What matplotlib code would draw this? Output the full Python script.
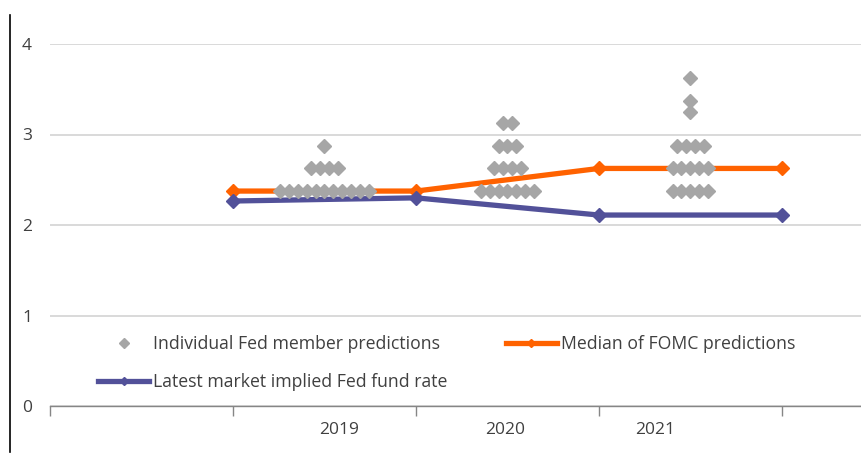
import matplotlib
matplotlib.use("Agg")
import matplotlib.pyplot as plt
from matplotlib.lines import Line2D
import numpy as np

plt.rcParams['font.family'] = ['Open Sans', 'DejaVu Sans']

# line series (x positions 0..3 on category axis)
line_x = [0, 1, 2, 3]
median_fomc = [2.375, 2.375, 2.625, 2.625]
market_implied = [2.265, 2.30, 2.11, 2.11]

# individual dot-plot predictions: cluster centre, value levels and count at each level
dot_years = ["2019", "2020", "2021"]
dot_centres = [0.5, 1.5, 2.5]
dot_levels = [
    [2.375, 2.625, 2.875],
    [2.375, 2.625, 2.875, 3.125],
    [2.375, 2.625, 2.875, 3.25, 3.375, 3.625],
]
dot_counts = [
    [11, 4, 1],
    [7, 4, 3, 2],
    [5, 5, 4, 1, 1, 1],
]

year_labels = ["2019", "2020", "2021"]
year_label_pos = [0.58, 1.486, 2.306]

ORANGE = "#FF6200"
PURPLE = "#525199"
GREY = "#A6A6A6"
TEXT = "#404040"

fig = plt.figure(figsize=(8.62, 4.59), dpi=100)
ax = fig.add_axes([50/862, 1-406/459, 811/862, (406-44)/459])

spacing = 0.049
xs, ys = [], []
for c, levels, counts in zip(dot_centres, dot_levels, dot_counts):
    for v, n in zip(levels, counts):
        for i in range(n):
            xs.append(c + (i - (n - 1) / 2) * spacing)
            ys.append(v)

ax.plot(line_x, median_fomc, color=ORANGE, lw=3.8, marker='D', ms=7, zorder=3)
ax.plot(line_x, market_implied, color=PURPLE, lw=3.8, marker='D', ms=7, zorder=3)
ax.plot(xs, ys, linestyle='none', marker='D', ms=7.2, color=GREY, zorder=4)

ax.set_xlim(-1, 3.432)
ax.set_ylim(0, 4)
ax.set_yticks([0, 1, 2, 3, 4])
ax.set_yticklabels(["0", "1", "2", "3", "4"])
ax.yaxis.grid(True, color="#D9D9D9", lw=1.4)
ax.set_axisbelow(True)
ax.tick_params(axis='y', length=0, pad=13, labelsize=12.5, labelcolor=TEXT)

ax.set_xticks(year_label_pos)
ax.set_xticklabels(year_labels)
ax.set_xticks([-1, 0, 1, 2, 3], minor=True)
ax.tick_params(axis='x', which='major', length=0, pad=11.5, labelsize=12.5, labelcolor=TEXT)
ax.tick_params(axis='x', which='minor', length=7, width=1, color="#868686", direction='out')

for s in ['top', 'right', 'left']:
    ax.spines[s].set_visible(False)
ax.spines['bottom'].set_color("#868686")
ax.spines['bottom'].set_linewidth(1)

h_dots = Line2D([], [], linestyle='none', marker='D', ms=5, color=GREY)
h_orange = Line2D([], [], color=ORANGE, lw=3.8, marker='D', ms=4)
h_purple = Line2D([], [], color=PURPLE, lw=3.8, marker='D', ms=4)
leg = ax.legend([h_dots, h_purple, h_orange],
                ["Individual Fed member predictions", "Latest market implied Fed fund rate",
                 "Median of FOMC predictions"],
                ncol=2, frameon=False, fontsize=12.7, handlelength=2.9, handletextpad=0.23,
                columnspacing=3.3, labelspacing=1.12, loc='upper left',
                bbox_to_anchor=(48/811, (406-335)/362), borderaxespad=0, borderpad=0)
for t in leg.get_texts():
    t.set_color(TEXT)

fig.add_artist(Line2D([10/862, 10/862], [1-452/459, 1-15/459], color="black", lw=1.2))

fig.savefig("out.png", dpi=100)
